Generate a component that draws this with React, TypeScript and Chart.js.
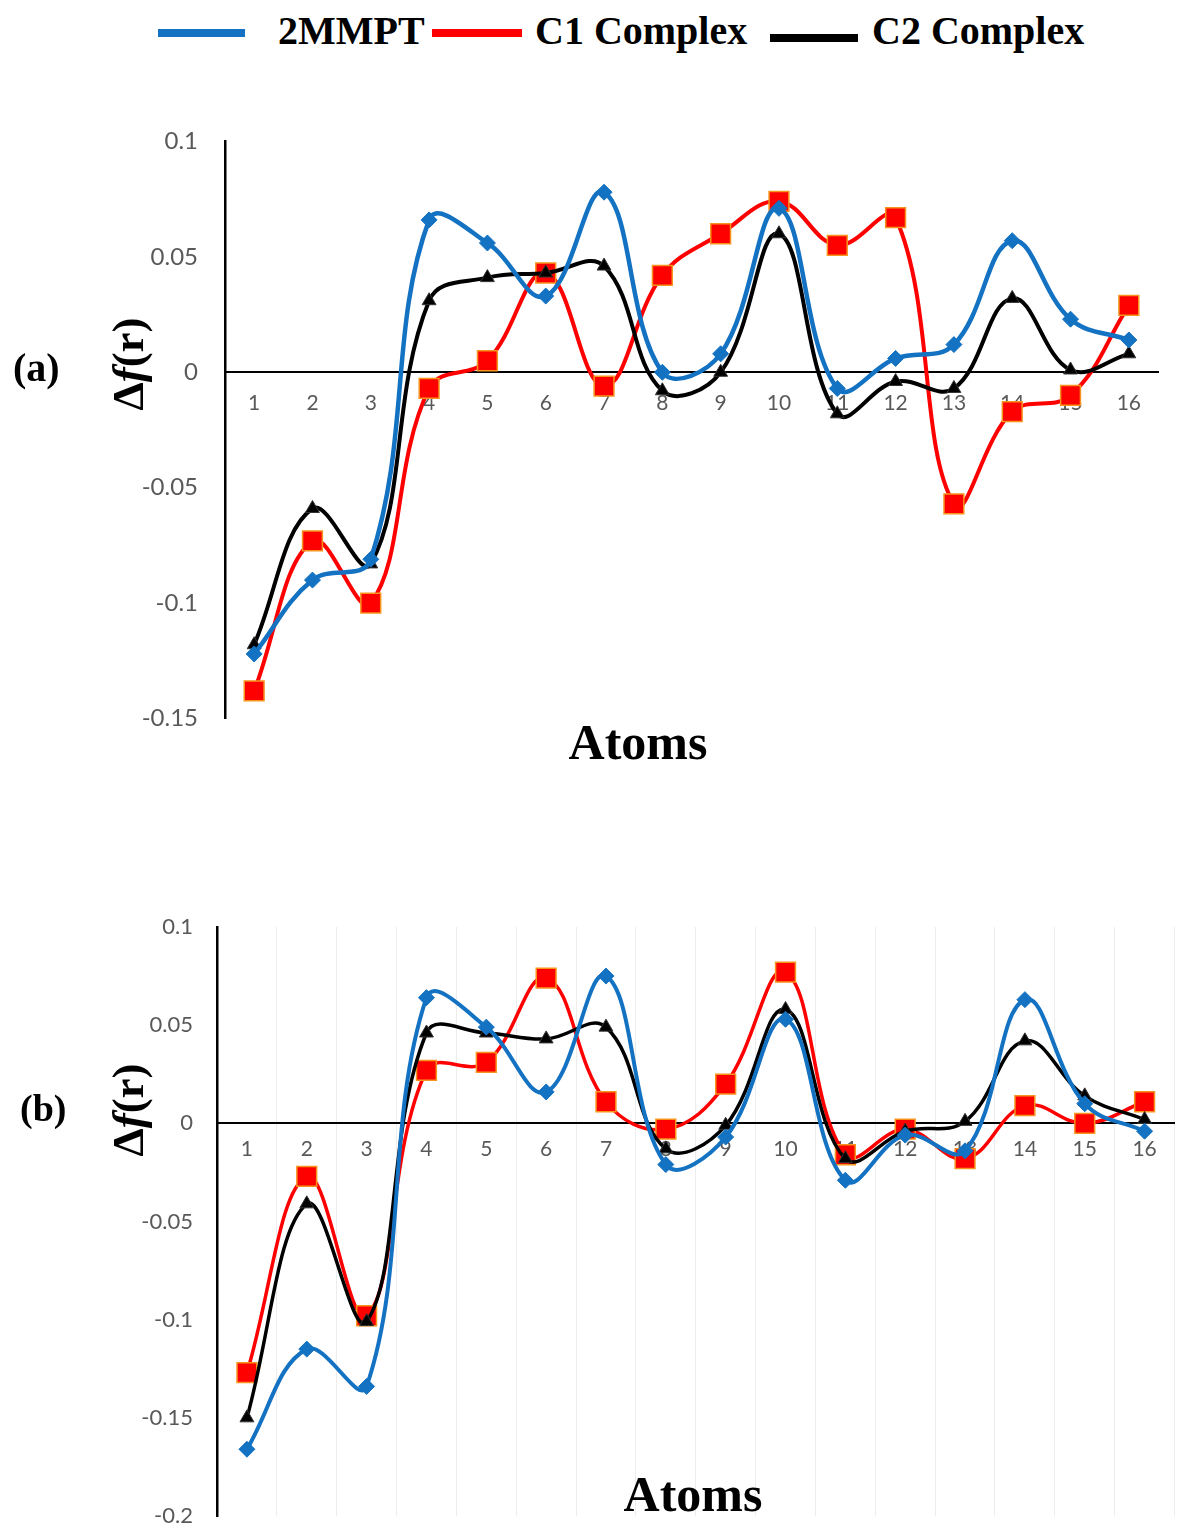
import React, { useEffect, useRef } from 'react';
import { Chart, registerables } from 'chart.js';

Chart.register(...registerables);

// ---------- data ----------
const atoms = ['1', '2', '3', '4', '5', '6', '7', '8', '9', '10', '11', '12', '13', '14', '15', '16'];
const seriesNames = ['2MMPT', 'C1 Complex', 'C2 Complex'];

// panel (a)
const mmptA = [-0.122, -0.090, -0.081, 0.066, 0.056, 0.033, 0.078, 0.000, 0.008, 0.071, -0.007, 0.006, 0.012, 0.057, 0.023, 0.014];
const c1A = [-0.138, -0.073, -0.100, -0.007, 0.005, 0.043, -0.006, 0.042, 0.060, 0.074, 0.055, 0.067, -0.057, -0.017, -0.010, 0.029];
const c2A = [-0.118, -0.059, -0.083, 0.031, 0.041, 0.043, 0.046, -0.008, 0.000, 0.060, -0.018, -0.004, -0.007, 0.032, 0.001, 0.008];

// panel (b)
const mmptB = [-0.166, -0.115, -0.134, 0.064, 0.049, 0.016, 0.075, -0.021, -0.007, 0.053, -0.029, -0.006, -0.014, 0.063, 0.010, -0.004];
const c1B = [-0.127, -0.027, -0.098, 0.027, 0.031, 0.074, 0.011, -0.003, 0.020, 0.077, -0.016, -0.003, -0.018, 0.009, 0.000, 0.011];
const c2B = [-0.150, -0.041, -0.101, 0.046, 0.046, 0.043, 0.049, -0.013, -0.001, 0.058, -0.018, -0.004, 0.001, 0.042, 0.014, 0.002];

const yTicksA = [-0.15, -0.1, -0.05, 0, 0.05, 0.1];
const yTicksB = [-0.2, -0.15, -0.1, -0.05, 0, 0.05, 0.1];

// ---------- styles ----------
const BLUE = '#1472C2';
const RED = '#FF0000';
const BLACK = '#000000';
const SQUARE_EDGE = '#F7941D';
const TICK_COLOR = '#595959';
const SERIF = '"Liberation Serif", "Times New Roman", serif';

type PanelProps = {
  top: number;
  width: number;
  height: number;
  padding: { top: number; right: number; bottom: number; left: number };
  axisWidth: number;
  yMin: number;
  yMax: number;
  yTicks: number[];
  blue: number[];
  red: number[];
  black: number[];
  gridColor: string;
  lw: number;
  yFont: number;
  yPad: number;
  xPad: number;
  xFont: number;
};

function Panel(p: PanelProps) {
  const ref = useRef<HTMLCanvasElement | null>(null);
  useEffect(() => {
    if (!ref.current) return;
    const chart = new Chart(ref.current, {
      type: 'line',
      data: {
        labels: atoms,
        datasets: [
          {
            label: seriesNames[0],
            data: p.blue,
            borderColor: BLUE,
            backgroundColor: BLUE,
            borderWidth: p.lw,
            pointStyle: 'rectRot',
            pointRadius: 8,
            pointBackgroundColor: BLUE,
            pointBorderColor: BLUE,
            pointBorderWidth: 1,
            tension: 0.4,
            order: 0,
          },
          {
            label: seriesNames[1],
            data: p.red,
            borderColor: RED,
            backgroundColor: RED,
            borderWidth: p.lw - 0.5,
            pointStyle: 'rect',
            pointRadius: 14,
            pointBackgroundColor: RED,
            pointBorderColor: SQUARE_EDGE,
            pointBorderWidth: 1.5,
            tension: 0.4,
            order: 2,
          },
          {
            label: seriesNames[2],
            data: p.black,
            borderColor: BLACK,
            backgroundColor: BLACK,
            borderWidth: p.lw - 0.5,
            pointStyle: 'triangle',
            pointRadius: 8,
            pointBackgroundColor: BLACK,
            pointBorderColor: '#333333',
            pointBorderWidth: 1,
            tension: 0.4,
            order: 1,
          },
        ],
      },
      options: {
        responsive: false,
        animation: false,
        devicePixelRatio: 1,
        layout: { padding: p.padding },
        plugins: { legend: { display: false }, tooltip: { enabled: false } },
        scales: {
          x: {
            type: 'category',
            offset: true,
            position: { y: 0 } as any,
            grid: { display: true, color: p.gridColor, offset: true, drawTicks: false, lineWidth: 1 },
            border: { display: true, color: '#000000', width: 2 },
            ticks: {
              color: TICK_COLOR,
              font: { family: 'Lato', size: p.xFont },
              padding: p.xPad,
              maxRotation: 0,
              autoSkip: false,
            },
          },
          y: {
            type: 'linear',
            min: p.yMin,
            max: p.yMax,
            position: 'left',
            afterFit: (s: any) => {
              s.width = p.axisWidth;
            },
            afterBuildTicks: (s: any) => {
              s.ticks = p.yTicks.map((v) => ({ value: v }));
            },
            grid: { display: true, color: 'rgba(0,0,0,0)', drawTicks: false },
            border: { display: true, color: '#000000', width: 2.5 },
            ticks: {
              color: TICK_COLOR,
              font: { family: 'Lato', size: p.yFont },
              padding: p.yPad,
              callback: (v: any) => String(Math.round(Number(v) * 1000) / 1000),
            },
          },
        },
      },
    });
    return () => chart.destroy();
  }, []);
  return (
    <canvas
      ref={ref}
      width={p.width}
      height={p.height}
      style={{ position: 'absolute', left: 0, top: p.top, display: 'block', width: p.width, height: p.height }}
    />
  );
}

const abs = (s: React.CSSProperties): React.CSSProperties => ({ position: 'absolute', whiteSpace: 'nowrap', lineHeight: 1, ...s });

function LegendText({ left, text }: { left: number; text: string }) {
  return <div style={abs({ left, top: 11, fontFamily: SERIF, fontWeight: 'bold', fontSize: 40, color: '#000' })}>{text}</div>;
}

function YTitle({ x, y }: { x: number; y: number }) {
  return (
    <div
      style={abs({
        left: x,
        top: y,
        transform: 'translate(-50%, -50%) rotate(-90deg)',
        fontFamily: SERIF,
        fontWeight: 'bold',
        fontSize: 45,
        color: '#000',
      })}
    >
      Δ<i>f</i>(r)
    </div>
  );
}

function XTitle({ x, top }: { x: number; top: number }) {
  return (
    <div style={abs({ left: x, top, transform: 'translateX(-50%)', fontFamily: SERIF, fontWeight: 'bold', fontSize: 50, color: '#000' })}>
      Atoms
    </div>
  );
}

export default function App() {
  return (
    <div style={{ position: 'absolute', left: 0, top: 0, width: 1181, height: 1526, overflow: 'hidden', background: '#ffffff' }}>
      {/* legend */}
      <div style={abs({ left: 158, top: 29, width: 87, height: 8, background: BLUE })} />
      <LegendText left={278} text={seriesNames[0]} />
      <div style={abs({ left: 432, top: 29, width: 90, height: 8, background: RED })} />
      <LegendText left={535} text={seriesNames[1]} />
      <div style={abs({ left: 770, top: 34, width: 88, height: 8, background: BLACK })} />
      <LegendText left={872} text={seriesNames[2]} />

      {/* panel (a) */}
      <Panel
        top={100}
        width={1181}
        height={660}
        padding={{ top: 37, right: 23, bottom: 41, left: 0 }}
        axisWidth={225}
        yMin={-0.15}
        yMax={0.1}
        yTicks={yTicksA}
        blue={mmptA}
        red={c1A}
        black={c2A}
        gridColor="rgba(0,0,0,0)"
        lw={4.5}
        yFont={24}
        yPad={27}
        xPad={18}
        xFont={21}
      />
      <div style={abs({ left: 13, top: 348, fontFamily: SERIF, fontWeight: 'bold', fontSize: 40 })}>(a)</div>
      <YTitle x={128} y={364} />
      <XTitle x={638} top={717} />

      {/* panel (b) */}
      <Panel
        top={880}
        width={1190}
        height={700}
        padding={{ top: 47, right: 0, bottom: 64, left: 0 }}
        axisWidth={217}
        yMin={-0.2}
        yMax={0.1}
        yTicks={yTicksB}
        blue={mmptB}
        red={c1B}
        black={c2B}
        gridColor="#ededed"
        lw={4}
        yFont={22}
        yPad={24}
        xPad={13}
        xFont={21}
      />
      <div style={abs({ left: 20, top: 1089, fontFamily: SERIF, fontWeight: 'bold', fontSize: 38 })}>(b)</div>
      <YTitle x={128} y={1110} />
      <XTitle x={693} top={1469} />
    </div>
  );
}
